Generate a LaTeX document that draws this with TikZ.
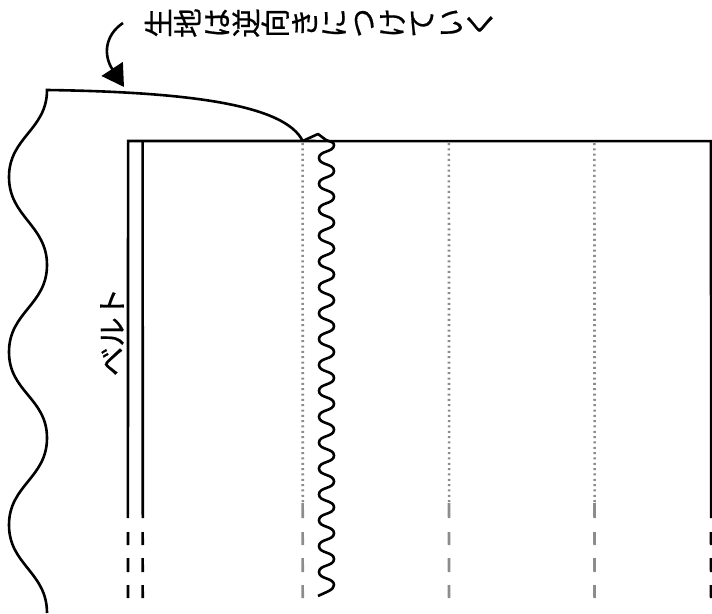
\documentclass[tikz,border=0pt]{standalone}
\usepackage{fontspec}
\usepackage{graphicx}
\usetikzlibrary{arrows.meta}
\newfontfamily\cjk[FakeBold=0.6]{Noto Sans CJK JP}
\newcommand{\rc}[1]{\makebox[29.2pt]{\rotatebox[origin=c]{90}{\makebox[1em]{\rule[-.12em]{0pt}{1em}#1}}}}
\tikzset{
  ink/.style={line width=2.6pt,black},
  fold/.style={line width=2.6pt,draw=gray!90,dash pattern=on 2pt off 3.33pt},
  greydash/.style={line width=2.6pt,draw=gray!90},
  label/.style={inner sep=0pt,font=\cjk\fontsize{29.5}{30}\selectfont}
}
\begin{document}
\begin{tikzpicture}[x=1pt,y=-1pt]
\useasboundingbox (0,0) rectangle (712,613);
% belt and panel outline
\draw[ink] (127.9,518) -- (128.1,141) -- (711,141.15) -- (711.1,518);
\draw[ink] (142.6,141) -- (142.8,518);
\foreach \x in {128,142.7,711} {
  \foreach \a/\b in {532/545,558/572,585/598} \draw[ink] (\x-0.05,\a) -- (\x+0.05,\b);
}
% fold lines
\foreach \x in {302.7,449,594.5} {
  \draw[fold] (\x-0.1,143) -- (\x+0.1,503);
  \foreach \a/\b in {503/518,532/545,558/572,585/598} \draw[greydash] (\x-0.05,\a) -- (\x+0.05,\b);
}
% loose fabric
\draw[ink,line join=miter] (302.7,141) .. controls (285,105) and (190,92) .. (47,90)
  .. controls (47,130) and (9,137) .. (9,177)
  .. controls (9,217) and (47,225) .. (47,265)
  .. controls (47,305) and (9,312) .. (9,352)
  .. controls (9,392) and (47,398) .. (47,438)
  .. controls (47,478) and (9,485) .. (9,525)
  .. controls (9,565) and (47,572) .. (47,613);
% gathered edge
\draw[ink,line join=round] (302.7,141) -- (318,134) -- (326,140) .. controls (331,142) and (334,142) .. (334,145)
  \foreach \k in {0,...,33} {
    .. controls ({326.5+7.5*cos(180*\k)},{145+12.94*\k+7.5}) and ({326.5+7.5*cos(180*(\k+1))},{145+12.94*(\k+1)-7.5}) .. ({326.5+7.5*cos(180*(\k+1))},{145+12.94*(\k+1)})
  } .. controls (334,590) and (326,592) .. (318,596);
% arrow
\draw[ink,-{Triangle[length=21.6pt,width=25pt]}] (123,23) .. controls (105,35) and (103,55) .. (124,87);
% labels
\node[label,anchor=center] (note) at (319,23) {\rc{生}\rc{地}\rc{は}\rc{逆}\rc{向}\rc{き}\rc{に}\rc{つ}\rc{け}\rc{て}\rc{い}\rc{く}};
\node[label,rotate=90,anchor=center] (belt) at (112,332) {ベルト};
\end{tikzpicture}
\end{document}
